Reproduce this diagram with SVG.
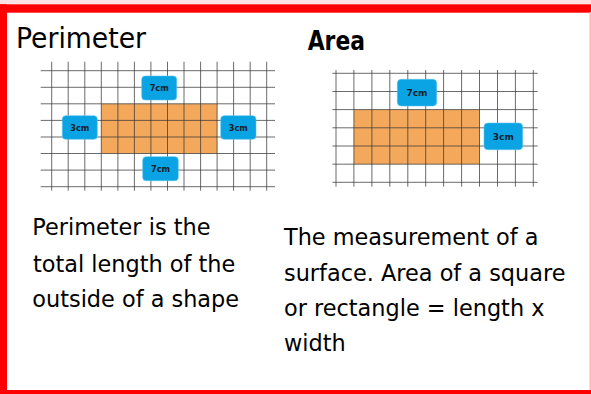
<svg xmlns="http://www.w3.org/2000/svg" width="591" height="394" viewBox="0 0 591 394">
<style>
.grid{stroke:#3a3a3a;stroke-opacity:0.75;stroke-width:1;fill:none}
.shape{fill:#f4a85c}
.lbl{fill:#0aa3e4;stroke:#5cc4ef;stroke-width:0.6}
.lt{font-family:"DejaVu Sans",Verdana,sans-serif;font-weight:bold;fill:#14202c;text-anchor:middle}
.body{font-family:"DejaVu Sans",Verdana,sans-serif;font-size:22.4px;fill:#000}
.title{font-family:"DejaVu Sans",Verdana,sans-serif;fill:#000}
</style>
<rect x="0" y="0" width="591" height="394" fill="#fff"/>
<g id="frame">
<rect x="0" y="0" width="591" height="4.3" fill="#fbe3e3"/>
<rect x="0" y="4.3" width="591" height="8.4" fill="#ff0000"/>
<rect x="0" y="4.3" width="7" height="389.7" fill="#ff0000"/>
<rect x="0" y="390" width="591" height="4" fill="#ff0000"/>
<rect x="589.5" y="12" width="1.5" height="378" fill="#ffb4b4"/>
</g>
<g id="perimeter-title"><text class="title" x="16" y="48" font-size="28" textLength="130" lengthAdjust="spacingAndGlyphs">Perimeter</text></g>
<g id="area-title"><text class="title" x="307.7" y="50" font-size="27" font-weight="bold" textLength="57.3" lengthAdjust="spacingAndGlyphs">Area</text></g>
<g id="perimeter-grid">
<rect class="shape" x="101.3" y="103.8" width="115.8" height="49.7"/>
<path class="grid" d="M51.7 61.7V190.7M68.2 61.7V190.7M84.8 61.7V190.7M101.3 61.7V190.7M117.9 61.7V190.7M134.4 61.7V190.7M150.9 61.7V190.7M167.5 61.7V190.7M184 61.7V190.7M200.6 61.7V190.7M217.1 61.7V190.7M233.6 61.7V190.7M250.2 61.7V190.7M266.7 61.7V190.7M40.7 70.7H275M40.7 87.3H275M40.7 103.8H275M40.7 120.4H275M40.7 137H275M40.7 153.5H275M40.7 170.1H275M40.7 186.7H275"/>
</g>
<g id="p-label-top"><rect class="lbl" x="141.7" y="76" width="35" height="24" rx="3.5"/><text class="lt" x="159.2" y="91.3" font-size="8.2">7cm</text></g>
<g id="p-label-left"><rect class="lbl" x="62.3" y="115.7" width="35" height="23.6" rx="3.5"/><text class="lt" x="79.8" y="130.8" font-size="8.2">3cm</text></g>
<g id="p-label-right"><rect class="lbl" x="220.7" y="115.7" width="35.3" height="23.6" rx="3.5"/><text class="lt" x="238.3" y="130.8" font-size="8.2">3cm</text></g>
<g id="p-label-bottom"><rect class="lbl" x="142.7" y="156.7" width="35.6" height="24" rx="3.5"/><text class="lt" x="160.5" y="172" font-size="8.2">7cm</text></g>
<g id="area-grid">
<rect class="shape" x="353.9" y="109.6" width="125.6" height="54.5"/>
<path class="grid" d="M336 70V186.7M353.9 70V186.7M371.9 70V186.7M389.8 70V186.7M407.8 70V186.7M425.7 70V186.7M443.6 70V186.7M461.6 70V186.7M479.5 70V186.7M497.5 70V186.7M515.4 70V186.7M533.3 70V186.7M332.3 73.3H537.7M332.3 91.5H537.7M332.3 109.6H537.7M332.3 127.8H537.7M332.3 146H537.7M332.3 164.2H537.7M332.3 182.3H537.7"/>
</g>
<g id="a-label-top"><rect class="lbl" x="397.3" y="79.3" width="39.4" height="26.7" rx="4"/><text class="lt" x="417" y="96.3" font-size="9">7cm</text></g>
<g id="a-label-right"><rect class="lbl" x="484" y="123" width="38.7" height="26.7" rx="4"/><text class="lt" x="503.3" y="140" font-size="9">3cm</text></g>
<g id="perimeter-text">
<text class="body" x="32.3" y="235">Perimeter is the</text>
<text class="body" x="33" y="271.7">total length of the</text>
<text class="body" x="32.3" y="307.3">outside of a shape</text>
</g>
<g id="area-text">
<text class="body" x="284" y="245">The measurement of a</text>
<text class="body" x="284" y="280.7">surface. Area of a square</text>
<text class="body" x="284" y="316">or rectangle = length x</text>
<text class="body" x="284" y="351">width</text>
</g>
</svg>
